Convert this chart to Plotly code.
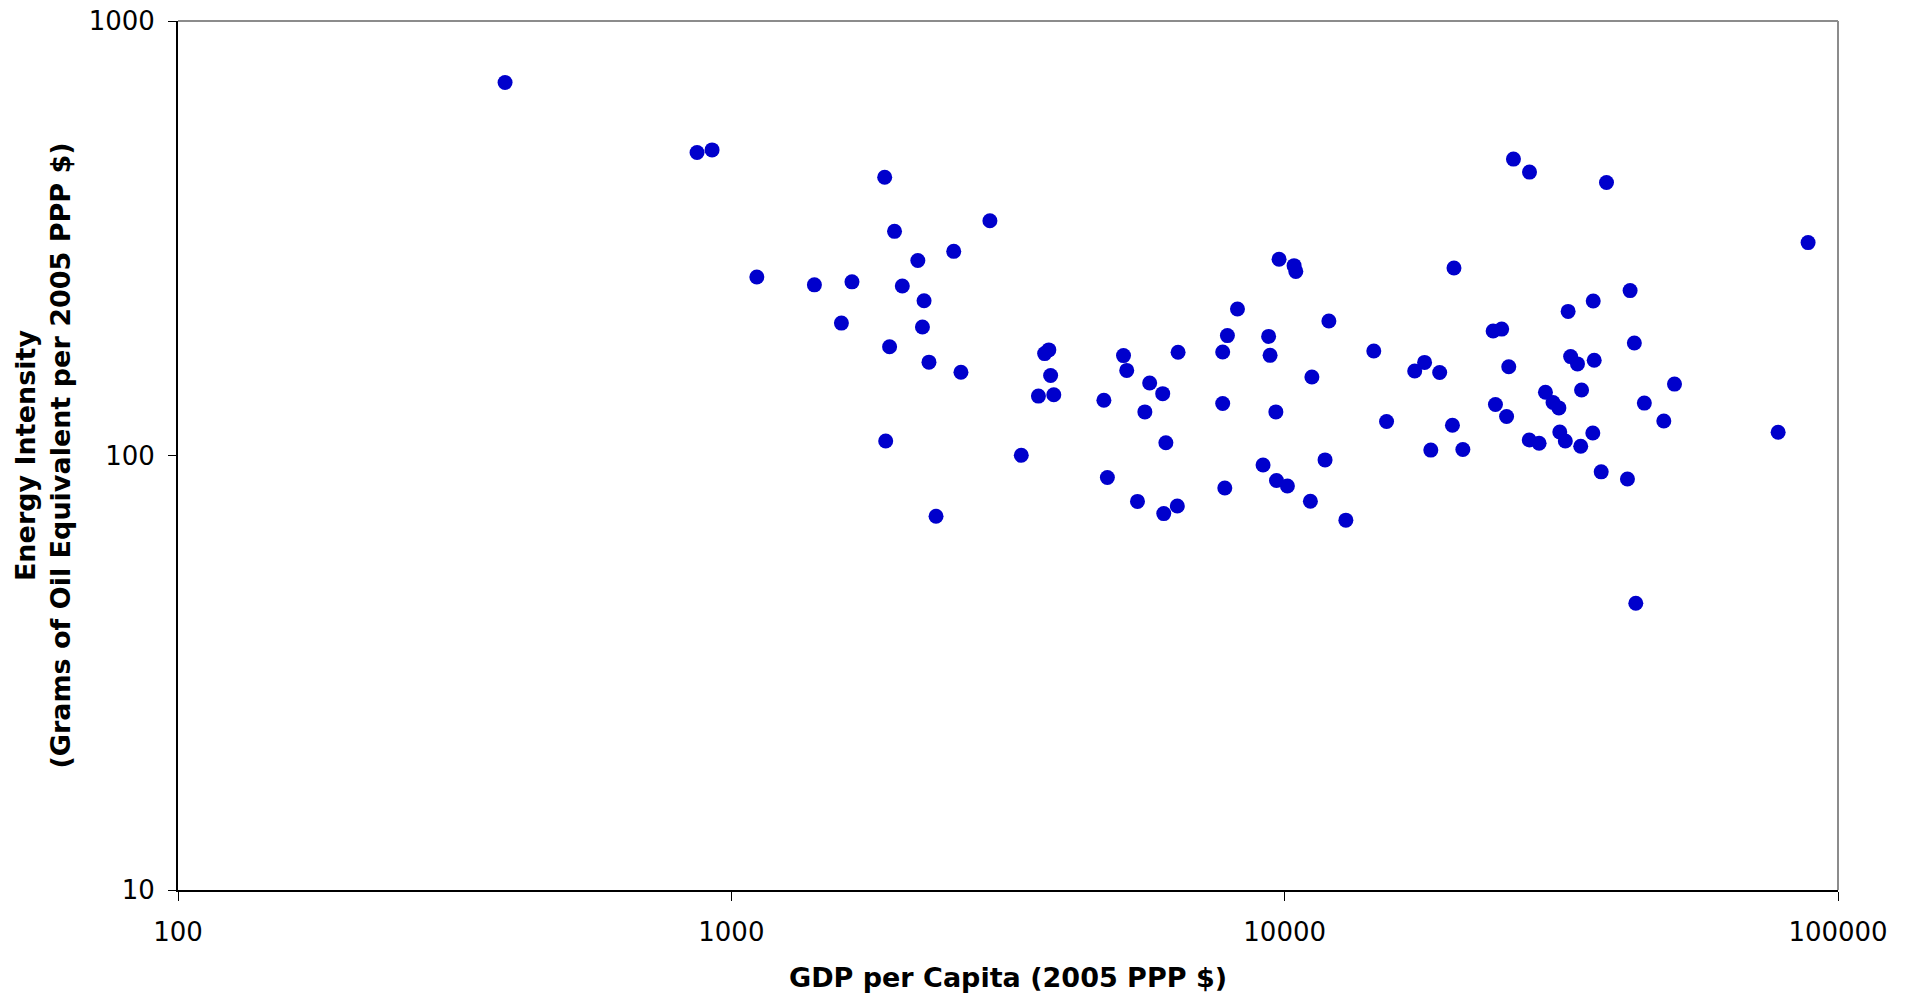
import plotly.graph_objects as go

# GDP per capita (2005 PPP $) and energy intensity (grams of oil equivalent per 2005 PPP $)
gdp_per_capita = [
    390, 867, 923, 1893, 1972, 1112, 1413, 1652, 1581, 1932, 1901,
    2933, 2523, 2173, 2037, 2230, 2215, 2276, 2600, 2344,
    3342, 3683, 3748, 3776, 3589, 3826,
    4713, 4782, 5114, 5183, 5702, 6020, 5589, 6100, 5420, 6046, 6397, 6418,
    7727, 7880, 8217, 7727, 7795,
    9770, 10400, 10475, 9354, 9411, 12020, 11200, 9640, 9140, 9665, 10115,
    11830, 11130, 12900,
    14490, 15280, 17900, 17180, 19060, 20100, 18370, 20990, 20230,
    23810, 24670, 25410, 24040, 25180, 25910, 27700,
    38160, 32530, 36110, 32870, 33820, 36260, 34400, 29600, 30550, 31300,
    31420, 32150, 27670, 28830, 34280, 36050, 37330,
    88300, 42100, 42850, 50640, 44670, 48440, 77950, 41640, 43110,
]
energy_intensity = [
    722, 498, 505, 437, 328, 257.6, 247, 251, 201.7, 178, 108,
    347, 295, 281, 245.5, 227, 197.6, 164, 155.4, 72.5,
    100.1, 171.6, 175, 152.8, 137, 138,
    134, 89, 169.8, 157, 146.8, 138.8, 126, 107, 78.4, 73.5, 76.5, 172.8,
    173, 188.8, 217.4, 131.7, 84.2,
    283, 273.5, 265.3, 188, 170, 204, 151.6, 126, 95.1, 87.6, 85.1,
    97.7, 78.5, 71.0,
    174, 119.7, 163.8, 156.5, 155.2, 117.4, 102.9, 103.2, 270,
    193.4, 195.4, 160, 131, 123, 481, 449,
    425, 214.6, 226.7, 168.9, 162.5, 165.6, 141.5, 139.8, 132.4, 128.7,
    113.3, 108, 108.6, 106.7, 105, 112.7, 91.7,
    309, 239.6, 181.5, 146, 132, 120.1, 113.1, 88.3, 45.7,
]

x_ticks = [100, 1000, 10000, 100000]
y_ticks = [10, 100, 1000]

FONT = "DejaVu Sans, Verdana, sans-serif"

fig = go.Figure(
    go.Scatter(
        x=gdp_per_capita,
        y=energy_intensity,
        mode="markers",
        marker=dict(color="#0000cc", size=15, line=dict(width=0)),
        showlegend=False,
    )
)

fig.update_xaxes(
    type="log",
    range=[2, 5],
    automargin=False,
    tickvals=x_ticks,
    ticktext=[str(v) for v in x_ticks],
    ticks="outside",
    ticklen=9,
    tickwidth=1,
    tickcolor="#000000",
    ticklabelstandoff=9,
    showgrid=False,
    zeroline=False,
    showline=True,
    linecolor="#000000",
    linewidth=2,
    tickfont=dict(family=FONT, size=26, color="#000000"),
    title=dict(
        text="<b>GDP per Capita (2005 PPP $)</b>",
        font=dict(family=FONT, size=27, color="#000000"),
        standoff=22,
    ),
)
fig.update_yaxes(
    type="log",
    range=[1, 3],
    automargin=False,
    tickvals=y_ticks,
    ticktext=[str(v) for v in y_ticks],
    ticks="outside",
    ticklen=8,
    tickwidth=1,
    tickcolor="#000000",
    ticklabelstandoff=8,
    showgrid=False,
    zeroline=False,
    showline=True,
    linecolor="#000000",
    linewidth=2,
    tickfont=dict(family=FONT, size=26, color="#000000"),
    title=dict(
        text="<b>Energy Intensity<br>(Grams of Oil Equivalent per 2005 PPP $)</b>",
        font=dict(family=FONT, size=27, color="#000000"),
        standoff=10,
    ),
)

# gray frame along the top and right of the plot area
fig.add_shape(type="line", xref="paper", yref="paper", x0=0, x1=1, y0=1, y1=1,
              line=dict(color="#8c8c8c", width=2))
fig.add_shape(type="line", xref="paper", yref="paper", x0=1, x1=1, y0=0, y1=1,
              line=dict(color="#8c8c8c", width=2))

fig.update_layout(
    width=1911,
    height=994,
    margin=dict(l=178, r=73, t=21, b=104),
    paper_bgcolor="#ffffff",
    plot_bgcolor="#ffffff",
    font=dict(family=FONT),
)

fig.write_html("out.html")
